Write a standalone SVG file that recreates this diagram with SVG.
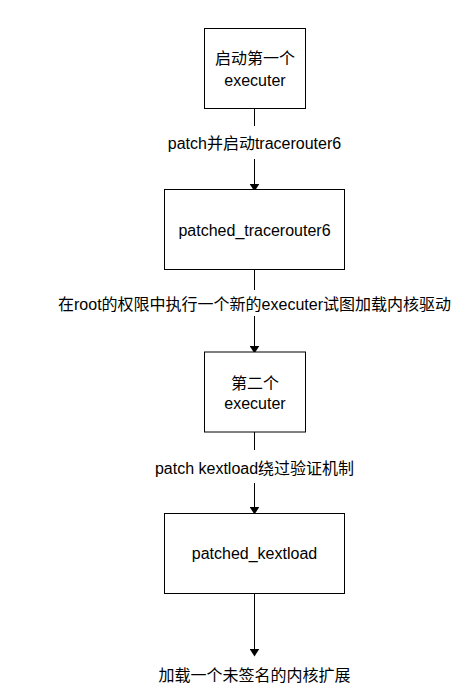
<svg xmlns="http://www.w3.org/2000/svg" width="464" height="694" viewBox="0 0 464 694">
<style>
.box{fill:#fff;stroke:#000;stroke-width:1}
.t{font-family:"Liberation Sans","Noto Sans CJK SC",sans-serif;font-size:16px;fill:#000;text-anchor:middle}
.c{stroke:#000;stroke-width:1;fill:none}
</style>
<defs>
<marker id="ah" markerWidth="8" markerHeight="10" refX="8" refY="5" orient="auto" markerUnits="userSpaceOnUse" viewBox="0 0 10 10" preserveAspectRatio="none">
<path d="M0,0 L10,5 L0,10 Z" fill="#000"/>
</marker>
</defs>
<rect width="464" height="694" fill="#fff"/>
<g id="connectors">
<line class="c" x1="254.5" y1="108" x2="254.5" y2="126"/>
<line class="c" x1="254.5" y1="159" x2="254.5" y2="190" marker-end="url(#ah)"/>
<text class="t" x="254.5" y="149">patch并启动tracerouter6</text>
<line class="c" x1="254.5" y1="270" x2="254.5" y2="290"/>
<line class="c" x1="254.5" y1="316" x2="254.5" y2="352" marker-end="url(#ah)"/>
<text class="t" x="254.5" y="309.5">在root的权限中执行一个新的executer试图加载内核驱动</text>
<line class="c" x1="254.5" y1="432" x2="254.5" y2="450"/>
<line class="c" x1="254.5" y1="483" x2="254.5" y2="513" marker-end="url(#ah)"/>
<text class="t" x="254.5" y="473.5">patch kextload绕过验证机制</text>
<line class="c" x1="254.5" y1="594" x2="254.5" y2="655" marker-end="url(#ah)"/>
<text class="t" x="254.5" y="680.5">加载一个未签名的内核扩展</text>
</g>
<g id="node1">
<rect class="box" x="204.5" y="28.5" width="101" height="80"/>
<text class="t" x="255" y="64">启动第一个</text>
<text class="t" x="255" y="86">executer</text>
</g>
<g id="node2">
<rect class="box" x="164.5" y="189.5" width="180" height="80"/>
<text class="t" x="254.5" y="235.5">patched_tracerouter6</text>
</g>
<g id="node3">
<rect class="box" x="204.5" y="352" width="101" height="80"/>
<text class="t" x="255" y="389">第二个</text>
<text class="t" x="255" y="409">executer</text>
</g>
<g id="node4">
<rect class="box" x="164.5" y="513.5" width="180" height="80"/>
<text class="t" x="254.5" y="559">patched_kextload</text>
</g>
</svg>
